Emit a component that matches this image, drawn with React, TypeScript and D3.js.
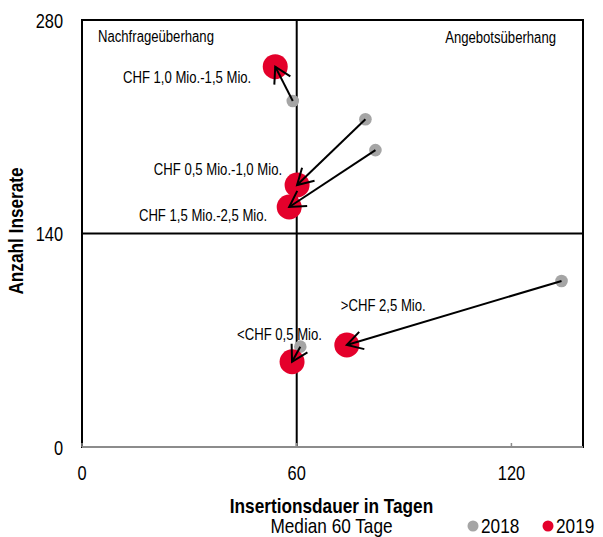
import React from "react";
import * as d3 from "d3";

// ---- data ----
const categories = [
  "CHF 1,0 Mio.-1,5 Mio.",
  "CHF 0,5 Mio.-1,0 Mio.",
  "CHF 1,5 Mio.-2,5 Mio.",
  "<CHF 0,5 Mio.",
  ">CHF 2,5 Mio.",
];
const days2018 = [58.9, 79.2, 82.0, 61.0, 134.0];
const count2018 = [226.9, 214.9, 194.7, 65.8, 108.9];
const days2019 = [54.0, 60.1, 57.9, 58.7, 74.0];
const count2019 = [249.4, 171.8, 157.4, 55.9, 66.9];
const xTicks = [0, 60, 120];
const yTicks = [0, 140, 280];
const medianDays = 60;
const medianCount = 140;
const quadrantLabels = ["Nachfrageüberhang", "Angebotsüberhang"];
const xTitle = "Insertionsdauer in Tagen";
const xSubtitle = "Median 60 Tage";
const yTitle = "Anzahl Inserate";
const years = ["2018", "2019"];

// ---- layout (label offsets relative to the 2019 point, px) ----
const labelLayout = [
  { anchor: "end", dx: -24, dy: 16.5 },
  { anchor: "end", dx: -15, dy: -10 },
  { anchor: "end", dx: -22, dy: 14.5 },
  { anchor: "start", dx: -55, dy: -22 },
  { anchor: "start", dx: -6, dy: -33.5 },
];

const W = 603;
const H = 537;
const M = { left: 82, right: 583, top: 20, bottom: 447 };
const RED = "#e4002b";
const GRAY = "#a5a5a5";
const FONT = "'Liberation Sans', Arial, sans-serif";
const SX = 0.82;

function NText({ x, y, size, anchor = "start", weight = "normal", rotate = 0, fill = "#000", children }: any) {
  return (
    <text
      transform={`translate(${x},${y}) rotate(${rotate}) scale(${SX},1)`}
      fontSize={size}
      fontFamily={FONT}
      fontWeight={weight}
      textAnchor={anchor}
      fill={fill}
    >
      {children}
    </text>
  );
}

export default function App() {
  const x = d3.scaleLinear().domain([0, 140]).range([M.left, M.right]);
  const y = d3.scaleLinear().domain([0, 280]).range([M.bottom, M.top]);

  const arrows = categories.map((c, i) => {
    const x1 = x(days2018[i]);
    const y1 = y(count2018[i]);
    const x2 = x(days2019[i]);
    const y2 = y(count2019[i]);
    const ang = Math.atan2(y1 - y2, x1 - x2);
    const L = 18;
    const a = Math.PI / 6;
    const h1 = [x2 + L * Math.cos(ang + a), y2 + L * Math.sin(ang + a)];
    const h2 = [x2 + L * Math.cos(ang - a), y2 + L * Math.sin(ang - a)];
    return { x1, y1, x2, y2, h1, h2 };
  });

  return (
    <svg width={W} height={H} style={{ position: "absolute", left: 0, top: 0, background: "#fff" }}>
      {/* frame */}
      <rect x={M.left} y={M.top} width={M.right - M.left} height={M.bottom - M.top} fill="none" stroke="#000" strokeWidth={2} />
      {/* median lines */}
      <line x1={x(medianDays)} x2={x(medianDays)} y1={M.top} y2={M.bottom} stroke="#000" strokeWidth={2} />
      <line x1={M.left} x2={M.right} y1={y(medianCount)} y2={y(medianCount)} stroke="#000" strokeWidth={2} />
      {/* x axis line */}
      <line x1={M.left} x2={M.right} y1={M.bottom} y2={M.bottom} stroke="#8c8c8c" strokeWidth={2} />
      {xTicks.map((t) => (
        <line key={"xt" + t} x1={x(t)} x2={x(t)} y1={M.bottom} y2={M.bottom - 4} stroke="#8c8c8c" strokeWidth={1.5} />
      ))}
      {/* tick labels */}
      {yTicks.map((t) => (
        <NText key={"yl" + t} x={63} y={y(t) + 7.5} size={20} anchor="end">{t}</NText>
      ))}
      {xTicks.map((t) => (
        <NText key={"xl" + t} x={x(t)} y={M.bottom + 33} size={20} anchor="middle">{t}</NText>
      ))}
      {/* quadrant labels */}
      <NText x={98} y={42} size={16}>{quadrantLabels[0]}</NText>
      <NText x={556} y={43} size={16} anchor="end">{quadrantLabels[1]}</NText>
      {/* points */}
      {categories.map((c, i) => (
        <circle key={"g" + i} cx={x(days2018[i])} cy={y(count2018[i])} r={6.3} fill={GRAY} />
      ))}
      {categories.map((c, i) => (
        <circle key={"r" + i} cx={x(days2019[i])} cy={y(count2019[i])} r={12.5} fill={RED} />
      ))}
      {/* arrows */}
      {arrows.map((a, i) => (
        <g key={"a" + i} stroke="#000" strokeWidth={2} fill="none" strokeLinecap="butt">
          <line x1={a.x1} y1={a.y1} x2={a.x2} y2={a.y2} />
          <polyline points={`${a.h1[0]},${a.h1[1]} ${a.x2},${a.y2} ${a.h2[0]},${a.h2[1]}`} />
        </g>
      ))}
      {/* category labels */}
      {categories.map((c, i) => (
        <NText
          key={"l" + i}
          x={x(days2019[i]) + labelLayout[i].dx}
          y={y(count2019[i]) + labelLayout[i].dy}
          size={16}
          anchor={labelLayout[i].anchor}
        >
          {c}
        </NText>
      ))}
      {/* axis titles */}
      <NText x={331.5} y={513} size={21} weight="bold" anchor="middle">{xTitle}</NText>
      <NText x={331.5} y={533} size={21} anchor="middle">{xSubtitle}</NText>
      <NText x={23} y={231} size={21} weight="bold" anchor="middle" rotate={-90}>{yTitle}</NText>
      {/* legend */}
      <circle cx={473} cy={526} r={5.5} fill={GRAY} />
      <NText x={481} y={533} size={21}>{years[0]}</NText>
      <circle cx={548} cy={526} r={5.5} fill={RED} />
      <NText x={556} y={533} size={21}>{years[1]}</NText>
    </svg>
  );
}
